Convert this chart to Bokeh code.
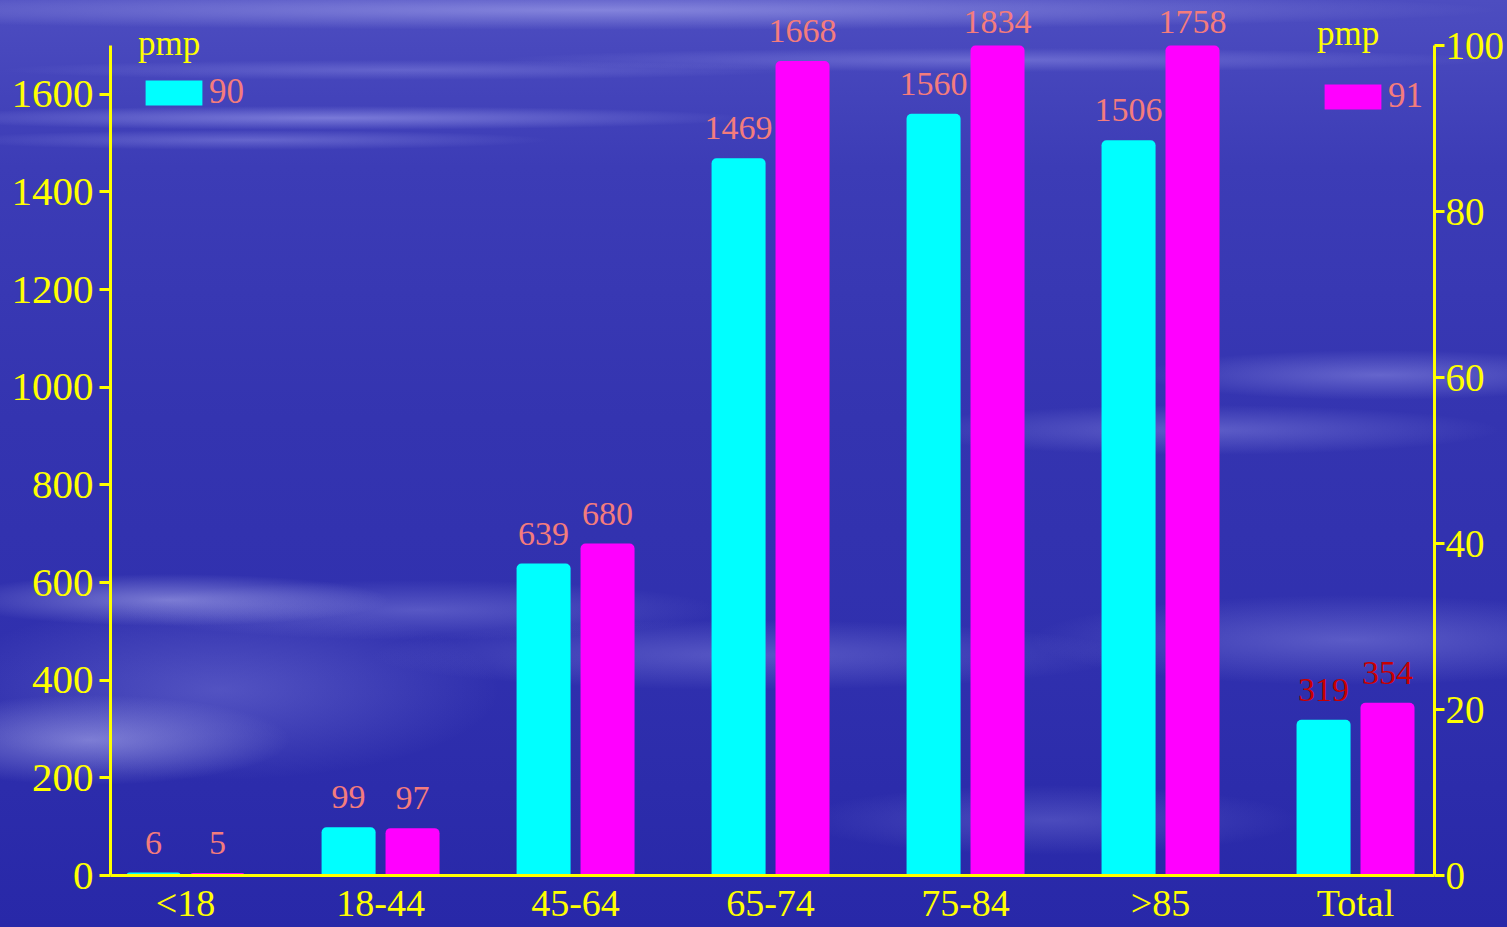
import numpy as np
from bokeh.plotting import figure
from bokeh.models import (Range1d, LinearAxis, FixedTicker, LabelSet, ColumnDataSource,
                          Legend, LegendItem)
from bokeh.embed import file_html
from bokeh.resources import INLINE

# ---- data ----
categories = ["<18", "18-44", "45-64", "65-74", "75-84", ">85", "Total"]
pmp_90 = [6, 99, 639, 1469, 1560, 1506, 319]
pmp_91 = [5, 97, 680, 1668, 1834, 1758, 354]
left_ticks = [0, 200, 400, 600, 800, 1000, 1200, 1400, 1600]
right_ticks = [0, 20, 40, 60, 80, 100]
series_names = ["90", "91"]
legend_title = "pmp"

Y_MAX = 1700          # top of left axis (bars are cut here)
R_MAX = 100           # top of right axis
HEADROOM = 875 / 830  # extra room above the axes for the value labels

FONT = "Liberation Serif"
YELLOW = "#FFFF00"
SALMON = "#F47C7C"
DARKRED = "#C80000"

xs = np.arange(len(categories))
src = ColumnDataSource(dict(
    x90=xs - 0.164, x91=xs + 0.164,
    y90c=[min(v, Y_MAX) for v in pmp_90], y91c=[min(v, Y_MAX) for v in pmp_91],
    off90=[13 if v > Y_MAX else 19 for v in pmp_90],
    off91=[13 if v > Y_MAX else 19 for v in pmp_91],
    lab90=[str(v) for v in pmp_90], lab91=[str(v) for v in pmp_91],
    col90=[DARKRED if c == "Total" else SALMON for c in categories],
    col91=[DARKRED if c == "Total" else SALMON for c in categories],
))

p = figure(width=1507, height=927, output_backend="svg", toolbar_location=None,
           x_range=Range1d(-0.385, 6.405), y_range=Range1d(0, Y_MAX * HEADROOM),
           min_border_left=110, min_border_right=73, min_border_top=0, min_border_bottom=52)
p.background_fill_alpha = 0
p.border_fill_alpha = 0
p.outline_line_color = None
p.xgrid.visible = False
p.ygrid.visible = False
p.styles = {
    "background": (
        "radial-gradient(ellipse 420px 12px at 330px 118px, rgba(190,190,255,0.45), rgba(0,0,0,0)),"
        "radial-gradient(ellipse 300px 10px at 250px 140px, rgba(190,190,255,0.30), rgba(0,0,0,0)),"
        "radial-gradient(ellipse 900px 20px at 600px 10px, rgba(200,200,255,0.45), rgba(0,0,0,0)),"
        "radial-gradient(ellipse 500px 12px at 1000px 60px, rgba(190,190,255,0.30), rgba(0,0,0,0)),"
        "radial-gradient(ellipse 400px 10px at 400px 70px, rgba(190,190,255,0.25), rgba(0,0,0,0)),"
        "radial-gradient(ellipse 220px 26px at 170px 600px, rgba(210,210,255,0.45), rgba(0,0,0,0)),"
        "radial-gradient(ellipse 200px 45px at 90px 740px, rgba(210,210,255,0.45), rgba(0,0,0,0)),"
        "radial-gradient(ellipse 280px 90px at 220px 690px, rgba(190,190,255,0.25), rgba(0,0,0,0)),"
        "radial-gradient(ellipse 300px 30px at 420px 610px, rgba(190,190,255,0.28), rgba(0,0,0,0)),"
        "radial-gradient(ellipse 380px 35px at 750px 655px, rgba(190,190,255,0.28), rgba(0,0,0,0)),"
        "radial-gradient(ellipse 300px 25px at 1200px 430px, rgba(190,190,255,0.30), rgba(0,0,0,0)),"
        "radial-gradient(ellipse 240px 25px at 1380px 375px, rgba(190,190,255,0.35), rgba(0,0,0,0)),"
        "radial-gradient(ellipse 320px 45px at 1350px 640px, rgba(190,190,255,0.30), rgba(0,0,0,0)),"
        "radial-gradient(ellipse 250px 35px at 1050px 820px, rgba(190,190,255,0.22), rgba(0,0,0,0)),"
        "linear-gradient(to bottom, #4d4dc0 0%, #3c3cb6 18%, #3434b0 45%, #3030ae 70%, #2828a8 100%)"
    )
}

r90 = p.vbar(x="x90", top="y90c", width=0.277, source=src, fill_color="#00FFFF",
             line_color=None, border_radius=(5, 5, 0, 0))
r91 = p.vbar(x="x91", top="y91c", width=0.277, source=src, fill_color="#FF00FF",
             line_color=None, border_radius=(5, 5, 0, 0))

for xf, yf, tf, cf, of in [("x90", "y90c", "lab90", "col90", "off90"),
                           ("x91", "y91c", "lab91", "col91", "off91")]:
    p.add_layout(LabelSet(x=xf, y=yf, text=tf, source=src, text_align="center",
                          text_baseline="alphabetic", y_offset=of, text_color=cf,
                          text_font=FONT, text_font_size="34px"))

# axes
p.extra_y_ranges = {"right": Range1d(0, R_MAX * HEADROOM)}
right_axis = LinearAxis(y_range_name="right", ticker=FixedTicker(ticks=right_ticks),
                        bounds=(0, R_MAX))
p.add_layout(right_axis, "right")

p.yaxis[0].ticker = FixedTicker(ticks=left_ticks)
p.yaxis[0].bounds = (0, Y_MAX)
for ax in [p.yaxis[0], right_axis]:
    ax.axis_line_color = YELLOW
    ax.axis_line_width = 3
    ax.major_tick_line_color = YELLOW
    ax.major_tick_line_width = 3
    ax.major_tick_in = 0
    ax.minor_tick_line_color = None
    ax.major_label_text_color = YELLOW
    ax.major_label_text_font = FONT
p.yaxis[0].major_tick_out = 11
p.yaxis[0].major_label_text_font_size = "41px"
p.yaxis[0].major_label_standoff = 6
right_axis.major_tick_out = 10
right_axis.major_label_text_font_size = "39px"
right_axis.major_label_standoff = 1

xa = p.xaxis[0]
xa.ticker = FixedTicker(ticks=list(xs))
xa.major_label_overrides = {int(i): c for i, c in zip(xs, categories)}
xa.axis_line_color = YELLOW
xa.axis_line_width = 3
xa.major_tick_line_color = None
xa.minor_tick_line_color = None
xa.major_tick_out = 0
xa.major_label_standoff = 6
xa.major_label_text_color = YELLOW
xa.major_label_text_font = FONT
xa.major_label_text_font_size = "38px"

def make_legend(label, rend, loc, title_standoff):
    return Legend(items=[LegendItem(label=label, renderers=[rend])], title=legend_title,
                  location=loc, background_fill_alpha=0, border_line_color=None,
                  padding=0, margin=0, spacing=0, label_standoff=-2,
                  glyph_width=71, glyph_height=31, title_standoff=title_standoff,
                  title_text_color=YELLOW, title_text_font=FONT, title_text_font_size="35px",
                  title_text_font_style="normal",
                  label_text_color=SALMON, label_text_font=FONT, label_text_font_size="35px")

p.add_layout(make_legend(series_names[0], r90, (28, 763), 8))
p.add_layout(make_legend(series_names[1], r91, (1207, 759), 22))

open("out.html", "w").write(file_html(p, INLINE))
